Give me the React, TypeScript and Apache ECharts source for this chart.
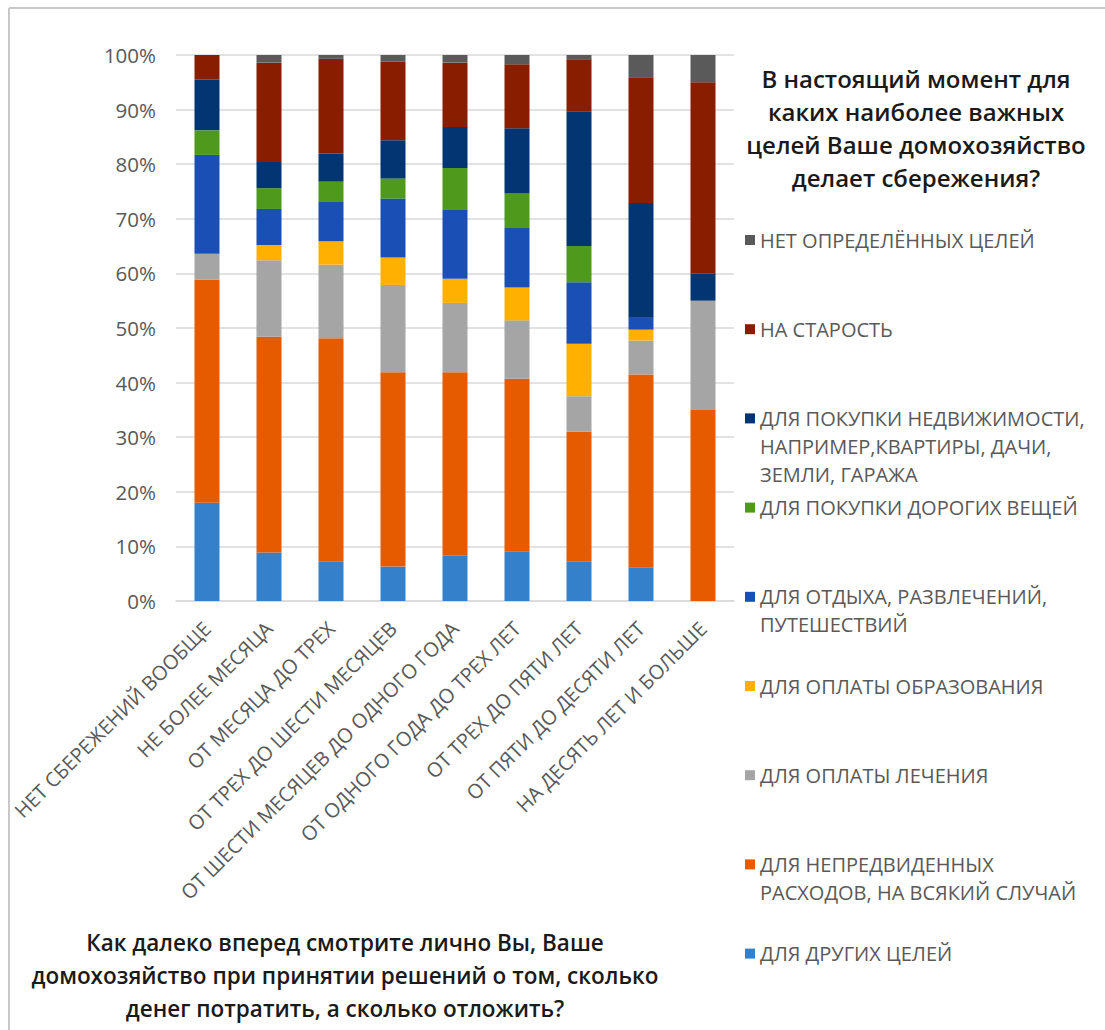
import React, { useEffect, useRef } from "react";
import * as echarts from "echarts";

const categories = [
  "НЕТ СБЕРЕЖЕНИЙ ВООБЩЕ",
  "НЕ БОЛЕЕ МЕСЯЦА",
  "ОТ МЕСЯЦА ДО ТРЕХ",
  "ОТ ТРЕХ ДО ШЕСТИ МЕСЯЦЕВ",
  "ОТ ШЕСТИ МЕСЯЦЕВ ДО ОДНОГО ГОДА",
  "ОТ ОДНОГО ГОДА ДО ТРЕХ ЛЕТ",
  "ОТ ТРЕХ ДО ПЯТИ ЛЕТ",
  "ОТ ПЯТИ ДО ДЕСЯТИ ЛЕТ",
  "НА ДЕСЯТЬ ЛЕТ И БОЛЬШЕ",
];

// bottom -> top stacking order
const otherGoals = [18.0, 8.9, 7.3, 6.3, 8.3, 9.1, 7.3, 6.1, 0];
const unexpected = [40.9, 39.5, 40.8, 35.6, 33.6, 31.6, 23.7, 35.4, 35.0];
const treatment = [4.7, 14.0, 13.5, 16.0, 12.7, 10.7, 6.5, 6.2, 20.0];
const education = [0, 2.8, 4.3, 5.0, 4.4, 6.0, 9.6, 2.0, 0];
const leisure = [18.1, 6.6, 7.3, 10.8, 12.6, 10.9, 11.3, 2.2, 0];
const expensive = [4.5, 3.8, 3.6, 3.7, 7.7, 6.4, 6.6, 0, 0];
const property = [9.3, 4.8, 5.1, 7.0, 7.5, 11.9, 24.7, 21.0, 5.0];
const oldAge = [4.5, 18.2, 17.4, 14.4, 11.8, 11.7, 9.5, 22.9, 35.0];
const noGoals = [0, 1.4, 0.7, 1.2, 1.4, 1.7, 0.8, 4.2, 5.0];

const yTicks = [0, 10, 20, 30, 40, 50, 60, 70, 80, 90, 100];

const seriesDefs = [
  { name: "ДЛЯ ДРУГИХ ЦЕЛЕЙ", label: "ДЛЯ ДРУГИХ ЦЕЛЕЙ", data: otherGoals, color: "#3580CB" },
  { name: "ДЛЯ НЕПРЕДВИДЕННЫХ РАСХОДОВ, НА ВСЯКИЙ СЛУЧАЙ", label: "ДЛЯ НЕПРЕДВИДЕННЫХ\nРАСХОДОВ, НА ВСЯКИЙ СЛУЧАЙ", data: unexpected, color: "#E75B00" },
  { name: "ДЛЯ ОПЛАТЫ ЛЕЧЕНИЯ", label: "ДЛЯ ОПЛАТЫ ЛЕЧЕНИЯ", data: treatment, color: "#A5A5A5" },
  { name: "ДЛЯ ОПЛАТЫ ОБРАЗОВАНИЯ", label: "ДЛЯ ОПЛАТЫ ОБРАЗОВАНИЯ", data: education, color: "#FFB000" },
  { name: "ДЛЯ ОТДЫХА, РАЗВЛЕЧЕНИЙ, ПУТЕШЕСТВИЙ", label: "ДЛЯ ОТДЫХА, РАЗВЛЕЧЕНИЙ,\nПУТЕШЕСТВИЙ", data: leisure, color: "#1A4FB6" },
  { name: "ДЛЯ ПОКУПКИ ДОРОГИХ ВЕЩЕЙ", label: "ДЛЯ ПОКУПКИ ДОРОГИХ ВЕЩЕЙ", data: expensive, color: "#4F991C" },
  { name: "ДЛЯ ПОКУПКИ НЕДВИЖИМОСТИ, НАПРИМЕР,КВАРТИРЫ, ДАЧИ, ЗЕМЛИ, ГАРАЖА", label: "ДЛЯ ПОКУПКИ НЕДВИЖИМОСТИ,\nНАПРИМЕР,КВАРТИРЫ, ДАЧИ,\nЗЕМЛИ, ГАРАЖА", data: property, color: "#023571" },
  { name: "НА СТАРОСТЬ", label: "НА СТАРОСТЬ", data: oldAge, color: "#891D00" },
  { name: "НЕТ ОПРЕДЕЛЁННЫХ ЦЕЛЕЙ", label: "НЕТ ОПРЕДЕЛЁННЫХ ЦЕЛЕЙ", data: noGoals, color: "#5A5A5A" },
];

const FONT = "'Open Sans', 'Noto Sans', sans-serif";
const TEXT_GRAY = "#595959";

export default function App() {
  const ref = useRef<HTMLDivElement>(null);

  useEffect(() => {
    if (!ref.current) return;
    const chart = echarts.init(ref.current, undefined, { renderer: "svg" });

    const legendOrder = [...seriesDefs].reverse();
    const legendGraphics: any[] = [];
    legendOrder.forEach((s, i) => {
      const y = 240 + i * 89.2;
      legendGraphics.push({
        type: "rect",
        shape: { x: 745, y: y - 5, width: 10, height: 10 },
        style: { fill: s.color },
        silent: true,
      });
      legendGraphics.push({
        type: "text",
        x: 760,
        y: y - 14,
        style: {
          text: s.label,
          fontFamily: FONT,
          fontSize: 20,
          lineHeight: 28,
          fill: TEXT_GRAY,
          textAlign: "left",
          textVerticalAlign: "top",
        },
        silent: true,
      });
    });

    chart.setOption({
      animation: false,
      backgroundColor: "#ffffff",
      grid: { left: 176, right: 371, top: 55, bottom: 429, containLabel: false },
      xAxis: {
        type: "category",
        data: categories,
        axisLine: { show: true, lineStyle: { color: "#D9D9D9", width: 1.5 } },
        axisTick: { show: false },
        axisLabel: {
          interval: 0,
          rotate: 45,
          margin: 24,
          fontFamily: FONT,
          fontSize: 20,
          color: TEXT_GRAY,
        },
      },
      yAxis: {
        type: "value",
        min: 0,
        max: 100,
        interval: 10,
        axisLine: { show: false },
        axisTick: { show: false },
        splitLine: { lineStyle: { color: "#D9D9D9", width: 1.5 } },
        axisLabel: {
          formatter: (v: number) => (yTicks.includes(v) ? v + "%" : ""),
          fontFamily: FONT,
          fontSize: 20.5,
          color: TEXT_GRAY,
          margin: 20,
        },
      },
      series: seriesDefs.map((s) => ({
        name: s.name,
        type: "bar",
        stack: "total",
        barWidth: 25,
        data: s.data,
        itemStyle: { color: s.color },
      })),
      graphic: [
        {
          type: "line",
          shape: { x1: 9, y1: 8, x2: 1105, y2: 8 },
          style: { stroke: "#C8C8C8", lineWidth: 2 },
          silent: true,
        },
        {
          type: "line",
          shape: { x1: 9, y1: 8, x2: 9, y2: 1030 },
          style: { stroke: "#C8C8C8", lineWidth: 2 },
          silent: true,
        },
        {
          type: "text",
          x: 916,
          y: 62,
          style: {
            text: "В настоящий момент для\nкаких наиболее важных\nцелей Ваше домохозяйство\nделает сбережения?",
            fontFamily: FONT,
            fontSize: 24,
            fontWeight: 600,
            lineHeight: 33,
            fill: "#1a1a1a",
            textAlign: "center",
            textVerticalAlign: "top",
          },
          silent: true,
        },
        {
          type: "text",
          x: 345,
          y: 926,
          style: {
            text: "Как далеко вперед смотрите лично Вы, Ваше\nдомохозяйство при принятии решений о том, сколько\nденег потратить, а сколько отложить?",
            fontFamily: FONT,
            fontSize: 22.5,
            fontWeight: 600,
            lineHeight: 33,
            fill: "#1a1a1a",
            textAlign: "center",
            textVerticalAlign: "top",
          },
          silent: true,
        },
        ...legendGraphics,
      ],
    });

    return () => chart.dispose();
  }, []);

  return (
    <div
      ref={ref}
      style={{ width: 1105, height: 1030, position: "absolute", left: 0, top: 0 }}
    />
  );
}
